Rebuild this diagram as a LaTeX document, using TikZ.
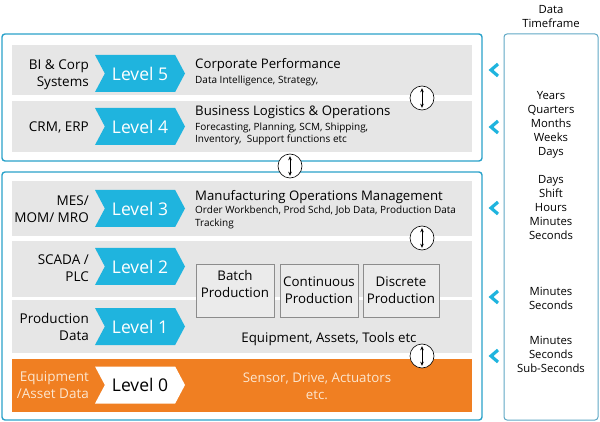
\documentclass[tikz,border=0pt]{standalone}
\usepackage{fontspec}
\setmainfont{Open Sans}
\usetikzlibrary{shapes.symbols,arrows.meta}
\definecolor{lvlblue}{HTML}{1FB4DE}
\definecolor{boxblue}{HTML}{2AA2CA}
\definecolor{framegrey}{HTML}{5FA8C4}
\definecolor{bandgrey}{HTML}{E6E6E6}
\definecolor{lvlorange}{HTML}{F07F22}
\definecolor{cream}{HTML}{FCE6CF}
\begin{document}
\begin{tikzpicture}[x=1pt,y=-1pt,
	lvl/.style={signal, signal from=west, signal to=east, signal pointer angle=124,
		fill=lvlblue, text=white, minimum width=90pt, minimum height=37pt, inner sep=0pt,
		font=\fontsize{17.5}{20}\selectfont},
	lbl/.style={anchor=east, align=right, inner sep=0pt, font=\fontsize{13.5}{17}\selectfont},
	ttl/.style={anchor=west, inner sep=0pt, font=\fontsize{13.2}{15}\selectfont},
	sub/.style={anchor=west, inner sep=0pt, font=\fontsize{10}{12}\selectfont},
	prodbox/.style={draw=black!45, fill=bandgrey!80!white, line width=0.8pt,
		minimum width=78pt, minimum height=53pt, inner sep=0pt},
	prodtxt/.style={align=center, inner sep=0pt, font=\fontsize{13.3}{17}\selectfont},
	tframe/.style={align=center, inner sep=0pt, font=\fontsize{11.3}{14}\selectfont},
	updown/.style={circle, draw=black, fill=white, line width=0.6pt, minimum size=24pt, inner sep=0pt},
	tick/.style={lvlblue, line width=3.2pt, miter limit=10}
	]
	\useasboundingbox (0,0) rectangle (600,422);

	% outer frames
	\draw[boxblue, line width=1.4pt, rounded corners=3pt] (2,34) rectangle (482,161);
	\draw[boxblue, line width=1.4pt, rounded corners=3pt] (2,172) rectangle (482,420);
	\draw[framegrey, line width=1pt, rounded corners=3pt] (504,34) rectangle (598,420);
	\node[tframe] (head) at (551,17) {Data\\Timeframe};

	% bands
	\fill[bandgrey] (12,45) rectangle (472,95);
	\fill[bandgrey] (12,101) rectangle (472,152);
	\fill[bandgrey] (12,181) rectangle (472,236);
	\fill[bandgrey] (12,241) rectangle (472,297);
	\fill[bandgrey] (12,300) rectangle (472,353);
	\fill[lvlorange] (12,359) rectangle (472,412);

	% levels
	\node[lvl] (l5) at (140,73.5) {Level 5};
	\node[lvl] (l4) at (140,126.5) {Level 4};
	\node[lvl] (l3) at (140,208.5) {Level 3};
	\node[lvl] (l2) at (140,266.5) {Level 2};
	\node[lvl] (l1) at (140,326.5) {Level 1};
	\node[lvl, fill=white, text=black] (l0) at (140,385) {Level 0};

	\node[lbl] (s5) at (89,74.5) {BI \& Corp\\Systems};
	\node[lbl] (s4) at (89,127) {CRM, ERP};
	\node[lbl] (s3) at (89,209) {MES/\\MOM/ MRO};
	\node[lbl] (s2) at (89,268.5) {SCADA /\\PLC};
	\node[lbl] (s1) at (89,327) {Production\\Data};
	\node[lbl, text=cream] (s0) at (89,385.5) {Equipment\\/Asset Data};

	% descriptions
	\node[ttl] (t5) at (195,65) {Corporate Performance};
	\node[sub] (d5) at (195,81) {Data Intelligence, Strategy,};
	\node[ttl] (t4) at (195,112) {Business Logistics \& Operations};
	\node[sub] (d4a) at (195,128) {Forecasting, Planning, SCM, Shipping,};
	\node[sub] (d4b) at (195,140) {Inventory,\ \ Support functions etc};
	\node[ttl] (t3) at (195,197) {Manufacturing Operations Management};
	\node[sub] (d3a) at (195,211) {Order Workbench, Prod Schd, Job Data, Production Data};
	\node[sub] (d3b) at (195,224) {Tracking};

	\node[prodbox] (batch) at (235,290.5) {};
	\node[prodbox] (cont) at (319,290.5) {};
	\node[prodbox, minimum width=76pt] (disc) at (401,290.5) {};
	\node[prodtxt] (batchtxt) at ([yshift=6pt]batch.center) {Batch\\Production};
	\node[prodtxt] (conttxt) at (cont.center) {Continuous\\Production};
	\node[prodtxt] (disctxt) at (disc.center) {Discrete\\Production};
	\node[prodtxt] (equip) at (329,339) {Equipment, Assets, Tools etc};
	\node[prodtxt, text=cream] (sensor) at (317,386) {Sensor, Drive, Actuators\\etc.};

	% up/down circles
	\node[updown] (c1) at (422,98) {};
	\node[updown] (c2) at (290,166) {};
	\node[updown] (c3) at (422,238) {};
	\node[updown] (c4) at (422,356) {};
	\foreach \c in {c1,c2,c3,c4}
		\draw[{Stealth[length=4pt,width=3.5pt]}-{Stealth[length=4pt,width=3.5pt]}, line width=0.6pt,
			shorten <=2.5pt, shorten >=2.5pt] (\c.north) -- (\c.south);

	% timeframe ticks
	\foreach \y in {70,127,208,297,356}
		\draw[tick] (498,\y-6) -- (491,\y) -- (498,\y+6);
	\node[tframe] (tf5) at (551,125) {Years\\Quarters\\Months\\Weeks\\Days};
	\node[tframe] (tf3) at (551,208) {Days\\Shift\\Hours\\Minutes\\Seconds};
	\node[tframe] (tf2) at (551,298) {Minutes\\Seconds};
	\node[tframe] (tf1) at (551,354) {Minutes\\Seconds\\Sub-Seconds};
\end{tikzpicture}
\end{document}
